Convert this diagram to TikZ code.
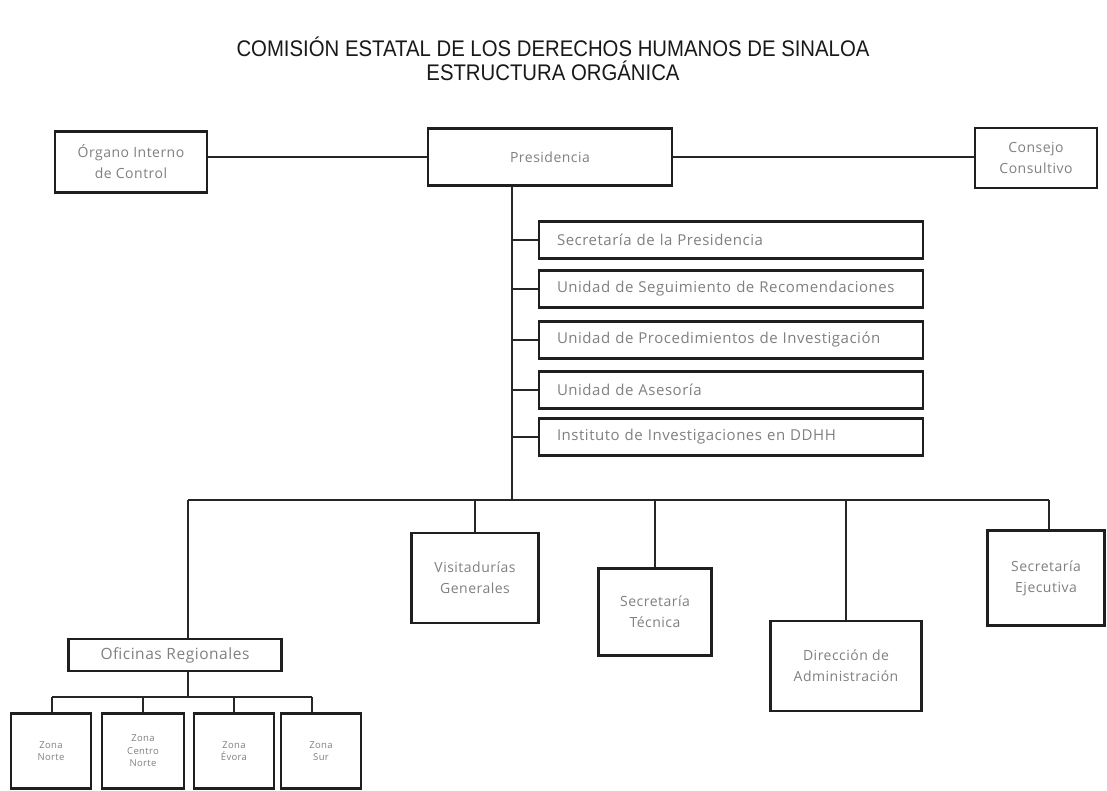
\documentclass[tikz,border=0pt]{standalone}
\usepackage{fontspec}
\setmainfont{Open Sans}
\newfontfamily\boxfont{Open Sans}[LetterSpace=3.5]
\newfontfamily\titlefont{Liberation Sans}[FakeStretch=0.9]
\begin{document}
\begin{tikzpicture}[x=1pt,y=-1pt,
  box/.style={draw=black!88, line width=2.6pt, fill=white, text=black!50, inner sep=0pt, align=center, font=\boxfont\fontsize{14}{21}\selectfont},
  stackbox/.style={box, minimum width=384pt, minimum height=37pt, text width=348pt, inner xsep=18pt, align=left, font=\boxfont\fontsize{15}{18}\selectfont},
  zonebox/.style={box, minimum width=80pt, minimum height=75pt, font=\boxfont\fontsize{9.5}{12.5}\selectfont},
  wire/.style={draw=black!85, line width=1.3pt},
  titletext/.style={font=\titlefont\fontsize{22.6}{26}\selectfont, text=black!90, inner sep=0pt}]
\fill[white] (0,0) rectangle (1107,791);
\useasboundingbox (0,0) rectangle (1107,791);

% title
\node[titletext] (t1) at (553,47) {COMISIÓN ESTATAL DE LOS DERECHOS HUMANOS DE SINALOA};
\node[titletext] (t2) at (553,71) {ESTRUCTURA ORGÁNICA};

% top row
\node[box, minimum width=152pt, minimum height=61pt] (org) at (131,162) {Órgano Interno\\de Control};
\node[box, minimum width=244pt, minimum height=57pt] (pres) at (550,157) {Presidencia};
\node[box, minimum width=122pt, minimum height=60pt] (cons) at (1036,158) {Consejo\\Consultivo};

% stack
\node[stackbox] (s1) at (731,240) {Secretaría de la Presidencia};
\node[stackbox] (s2) at (731,289) {Unidad de Seguimiento de Recomendaciones};
\node[stackbox] (s3) at (731,340) {Unidad de Procedimientos de Investigación};
\node[stackbox] (s4) at (731,390) {Unidad de Asesoría};
\node[stackbox] (s5) at (731,437) {Instituto de Investigaciones en DDHH};

% second level
\node[box, minimum width=127pt, minimum height=90pt] (vg) at (475,578) {Visitadurías\\Generales};
\node[box, minimum width=113pt, minimum height=87pt] (st) at (655,612) {Secretaría\\Técnica};
\node[box, minimum width=151pt, minimum height=90pt] (da) at (846,666) {Dirección de\\Administración};
\node[box, minimum width=117pt, minimum height=95pt] (se) at (1046,578) {Secretaría\\Ejecutiva};

% regional
\node[box, minimum width=213pt, minimum height=32pt, font=\boxfont\fontsize{15.5}{18}\selectfont] (ofi) at (175,655) {Oficinas Regionales};
\node[zonebox] (z1) at (51,751) {Zona\\Norte};
\node[zonebox, minimum width=82pt] (z2) at (143,751) {Zona\\Centro\\Norte};
\node[zonebox] (z3) at (234,751) {Zona\\Évora};
\node[zonebox] (z4) at (321,751) {Zona\\Sur};

% coordinates
\coordinate (tx) at (512,0);
\coordinate (busL) at (188,500);
\coordinate (busR) at (1049,500);
\coordinate (subL) at (52,697);
\coordinate (subR) at (312,697);

% connectors
\draw[wire] (org.east |- pres.west) -- (pres.west);
\draw[wire] (pres.east) -- (pres.east -| cons.west);
\draw[wire] (pres.south -| tx) -- (tx |- busL);
\foreach \s in {s1,s2,s3,s4,s5} \draw[wire] (\s.west -| tx) -- (\s.west);
\draw[wire] (busL) -- (busR);
\draw[wire] (busL) -- (ofi.north -| busL);
\draw[wire] (vg.north |- busL) -- (vg.north);
\draw[wire] (st.north |- busL) -- (st.north);
\draw[wire] (da.north |- busL) -- (da.north);
\draw[wire] (busR) -- (se.north -| busR);
\draw[wire] (ofi.south -| busL) -- (busL |- subL);
\draw[wire] (subL) -- (subR);
\draw[wire] (subL) -- (z1.north -| subL);
\draw[wire] (z2.north |- subL) -- (z2.north);
\draw[wire] (z3.north |- subL) -- (z3.north);
\draw[wire] (subR) -- (z4.north -| subR);
\end{tikzpicture}
\end{document}
